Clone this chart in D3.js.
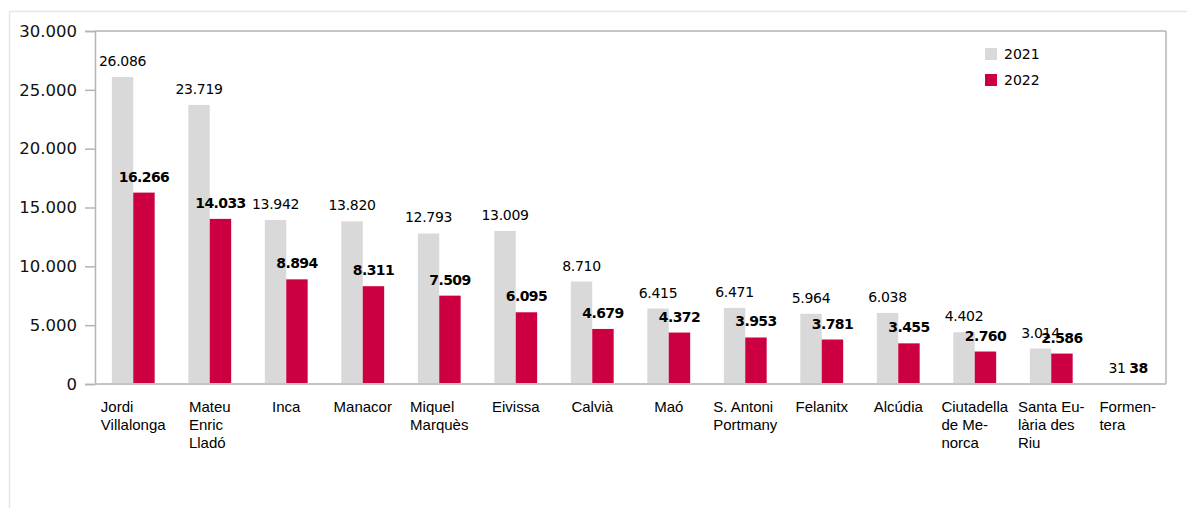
<!DOCTYPE html>
<html>
<head>
<meta charset="utf-8">
<script src="https://cdn.jsdelivr.net/npm/d3@7"></script>
<style>
  html, body { margin: 0; padding: 0; background: #fff; }
  svg { display: block; }
</style>
</head>
<body>
<svg id="chart" width="1187" height="508"></svg>
<script>
const categories = ["Jordi Villalonga","Mateu Enric Lladó","Inca","Manacor","Miquel Marquès","Eivissa","Calvià","Maó","S. Antoni Portmany","Felanitx","Alcúdia","Ciutadella de Menorca","Santa Eulària des Riu","Formentera"];
const categoryLines = [["Jordi","Villalonga"],["Mateu","Enric","Lladó"],["Inca"],["Manacor"],["Miquel","Marquès"],["Eivissa"],["Calvià"],["Maó"],["S. Antoni","Portmany"],["Felanitx"],["Alcúdia"],["Ciutadella","de Me-","norca"],["Santa Eu-","lària des","Riu"],["Formen-","tera"]];
const seriesNames = ["2021","2022"];
const values2021 = [26086,23719,13942,13820,12793,13009,8710,6415,6471,5964,6038,4402,3014,31];
const values2022 = [16266,14033,8894,8311,7509,6095,4679,4372,3953,3781,3455,2760,2586,38];
const yTicks = [0,5000,10000,15000,20000,25000,30000];
const colors = ["#d9d9d9","#cc0041"];

const svg = d3.select("#chart");
const L = 95, R = 1166, T = 31, B = 384;

const fmt = v => d3.format(",")(v).replace(/,/g, ".");

// outer frame
svg.append("line").attr("x1",9.5).attr("x2",1187).attr("y1",11.5).attr("y2",11.5).attr("stroke","#dfe7f5").attr("stroke-width",1.5);
svg.append("line").attr("x1",9.5).attr("x2",9.5).attr("y1",11.5).attr("y2",508).attr("stroke","#dfe7f5").attr("stroke-width",1.5);

const x0 = d3.scaleBand().domain(categories).range([L, R]).paddingInner(0.44).paddingOuter(0.22);
const x1 = d3.scaleBand().domain(seriesNames).range([0, x0.bandwidth()]);
const y = d3.scaleLinear().domain([0, 30000]).range([B, T]);

// plot frame (top & right)
svg.append("line").attr("x1",L).attr("x2",R).attr("y1",T).attr("y2",T).attr("stroke","#b4b4b4").attr("stroke-width",1.5);
svg.append("line").attr("x1",R).attr("x2",R).attr("y1",T).attr("y2",B).attr("stroke","#b4b4b4").attr("stroke-width",1.5);

// y axis
const yAxis = svg.append("g").attr("transform",`translate(${L},0)`)
  .call(d3.axisLeft(y).tickValues(yTicks).tickSize(10).tickPadding(8).tickFormat(fmt));
yAxis.select(".domain").attr("stroke","#b4b4b4").attr("stroke-width",1.5);
yAxis.selectAll(".tick line").attr("stroke","#b4b4b4").attr("stroke-width",1.5);
yAxis.selectAll(".tick text").attr("font-family","DejaVu Sans").attr("font-size",16.5).attr("fill","#111");

// bars
const data2 = [values2021, values2022];
const groups = svg.append("g");
seriesNames.forEach((s, si) => {
  groups.selectAll(null).data(categories).enter().append("rect")
    .attr("x", (c) => x0(c) + x1(s))
    .attr("width", x1.bandwidth())
    .attr("y", (c, i) => y(data2[si][i]))
    .attr("height", (c, i) => B - y(data2[si][i]))
    .attr("fill", colors[si]);
});

// x axis baseline
svg.append("line").attr("x1",L).attr("x2",R).attr("y1",B).attr("y2",B).attr("stroke","#c4c4c4").attr("stroke-width",2);

// data labels
seriesNames.forEach((s, si) => {
  svg.append("g").selectAll("text").data(categories).enter().append("text")
    .attr("x", (c) => x0(c) + x1(s) + x1.bandwidth()/2)
    .attr("y", (c, i) => y(data2[si][i]) - 11)
    .attr("text-anchor","middle")
    .attr("font-family","DejaVu Sans")
    .attr("font-size",14)
    .attr("font-weight", si === 1 ? "bold" : "normal")
    .attr("letter-spacing", si === 1 ? -0.6 : -0.3)
    .attr("fill","#000")
    .text((c, i) => fmt(data2[si][i]));
});

// category labels (block centered, lines left-aligned)
categories.forEach((c, i) => {
  const cx = x0(c) + x0.bandwidth()/2;
  const t = svg.append("text")
    .attr("font-family","Liberation Sans, Arial, sans-serif")
    .attr("font-size",15)
    .attr("fill","#000");
  const lines = categoryLines[i];
  const spans = lines.map((ln, li) => t.append("tspan").attr("y", 412 + li*18).text(ln));
  const w = d3.max(spans, sp => sp.node().getComputedTextLength());
  spans.forEach(sp => sp.attr("x", cx - w/2));
});

// legend
seriesNames.forEach((s, si) => {
  const ly = 48 + si*26;
  svg.append("rect").attr("x",985).attr("y",ly).attr("width",12).attr("height",12).attr("fill",colors[si]);
  svg.append("text").attr("x",1004).attr("y",ly+11)
    .attr("font-family","DejaVu Sans").attr("font-size",14).attr("fill","#000").text(s);
});
</script>
</body>
</html>
